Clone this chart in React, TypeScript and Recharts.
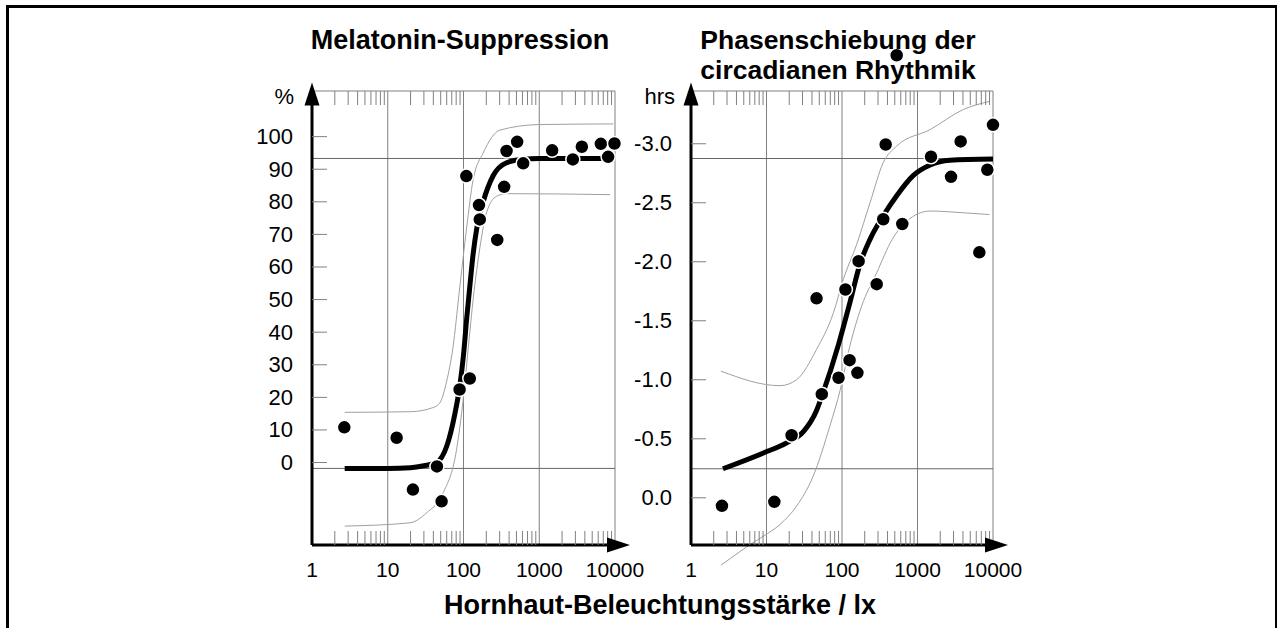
import {
  ComposedChart,
  Line,
  ReferenceDot,
  ReferenceLine,
  Scatter,
  XAxis,
  YAxis,
} from "recharts";

const FONT = '"Liberation Sans", Arial, Helvetica, sans-serif';

// shared log axis (lx)
const decadeTicks = [1, 10, 100, 1000, 10000];
const gridDecades = [10, 100, 1000, 10000];
const minorSteps = [2, 3, 4, 5, 6, 7, 8, 9];
const minorTicks = [1, 10, 100, 1000].flatMap((d) => minorSteps.map((k) => d * k));

// Melatonin-Suppression (%)
const melTicks = [0, 10, 20, 30, 40, 50, 60, 70, 80, 90, 100];
const melRange = { bottom: -25.3, top: 114 };
const melPlateau = [93.3, -1.8];
const melPoints = [
  { x: 2.67, y: 10.8 },
  { x: 13.1, y: 7.6 },
  { x: 21.5, y: -8.3 },
  { x: 44.6, y: -1.2 },
  { x: 51.4, y: -11.9 },
  { x: 88.8, y: 22.4 },
  { x: 121, y: 25.8 },
  { x: 109, y: 87.9 },
  { x: 160, y: 79.0 },
  { x: 164, y: 74.6 },
  { x: 279, y: 68.3 },
  { x: 344, y: 84.6 },
  { x: 370, y: 95.6 },
  { x: 511, y: 98.4 },
  { x: 614, y: 91.8 },
  { x: 1480, y: 95.8 },
  { x: 2775, y: 93.0 },
  { x: 3650, y: 96.9 },
  { x: 6500, y: 97.8 },
  { x: 8110, y: 93.8 },
  { x: 9840, y: 97.9 },
];
const melFit = [
  { x: 2.7, y: -1.8 },
  { x: 10, y: -1.8 },
  { x: 20, y: -1.6 },
  { x: 30, y: -1 },
  { x: 44, y: 0 },
  { x: 60, y: 5 },
  { x: 77, y: 15 },
  { x: 90, y: 24 },
  { x: 100, y: 33 },
  { x: 110, y: 44 },
  { x: 120, y: 53 },
  { x: 134, y: 64 },
  { x: 150, y: 72 },
  { x: 182, y: 80 },
  { x: 246, y: 88 },
  { x: 370, y: 92 },
  { x: 600, y: 93 },
  { x: 1000, y: 93.3 },
  { x: 9600, y: 93.3 },
];
const melUpper = [
  { x: 2.7, y: 15.4 },
  { x: 20, y: 15.6 },
  { x: 40, y: 16.9 },
  { x: 49, y: 18.4 },
  { x: 60, y: 25 },
  { x: 72, y: 34.7 },
  { x: 89.5, y: 54 },
  { x: 110, y: 72 },
  { x: 134, y: 86.8 },
  { x: 182, y: 95 },
  { x: 302, y: 102 },
  { x: 1000, y: 103.7 },
  { x: 9500, y: 103.9 },
];
const melLower = [
  { x: 2.7, y: -19.5 },
  { x: 19.6, y: -18.5 },
  { x: 32.7, y: -15.4 },
  { x: 54, y: -9.3 },
  { x: 81, y: 4 },
  { x: 99, y: 19.3 },
  { x: 121, y: 39.9 },
  { x: 134, y: 50 },
  { x: 160, y: 64 },
  { x: 201, y: 76.6 },
  { x: 273, y: 81.7 },
  { x: 370, y: 82.5 },
  { x: 8600, y: 82.2 },
];

// Phasenschiebung (hrs)
const phaseTicks = [0, -0.5, -1, -1.5, -2, -2.5, -3];
const phaseRange = { bottom: 0.4, top: -3.447 };
const phasePlateau = [-2.875, -0.246];
const phasePoints = [
  { x: 2.57, y: 0.068 },
  { x: 12.7, y: 0.034 },
  { x: 21.5, y: -0.53 },
  { x: 46, y: -1.69 },
  { x: 54, y: -0.878 },
  { x: 90, y: -1.017 },
  { x: 111, y: -1.765 },
  { x: 126, y: -1.166 },
  { x: 160, y: -1.059 },
  { x: 166, y: -2.005 },
  { x: 288, y: -1.81 },
  { x: 352, y: -2.36 },
  { x: 379, y: -2.994 },
  { x: 629, y: -2.32 },
  { x: 1510, y: -2.89 },
  { x: 2780, y: -2.72 },
  { x: 3730, y: -3.02 },
  { x: 6590, y: -2.08 },
  { x: 8410, y: -2.78 },
  { x: 10000, y: -3.16 },
];
const phaseOutlier = { x: 530, y: -3.75 };
const phaseFit = [
  { x: 2.65, y: -0.246 },
  { x: 9.1, y: -0.38 },
  { x: 18.5, y: -0.466 },
  { x: 30.8, y: -0.56 },
  { x: 46, y: -0.74 },
  { x: 54, y: -0.86 },
  { x: 90, y: -1.3 },
  { x: 128, y: -1.66 },
  { x: 173, y: -1.98 },
  { x: 235, y: -2.19 },
  { x: 352, y: -2.39 },
  { x: 530, y: -2.56 },
  { x: 875, y: -2.73 },
  { x: 1470, y: -2.82 },
  { x: 2680, y: -2.86 },
  { x: 10000, y: -2.87 },
];
const phaseUpper = [
  { x: 2.49, y: -1.073 },
  { x: 15.1, y: -0.95 },
  { x: 25, y: -1.0 },
  { x: 46, y: -1.257 },
  { x: 77, y: -1.568 },
  { x: 104, y: -1.85 },
  { x: 157, y: -2.15 },
  { x: 235, y: -2.5 },
  { x: 352, y: -2.84 },
  { x: 530, y: -2.98 },
  { x: 1470, y: -3.12 },
  { x: 4040, y: -3.29 },
  { x: 9130, y: -3.36 },
];
// part of the lower band that runs below the x axis
const phaseLowerTail = [
  { x: 2.49, y: 0.571 },
  { x: 6.04, y: 0.396 },
];
const phaseLower = [
  { x: 6.04, y: 0.396 },
  { x: 9.1, y: 0.325 },
  { x: 15.1, y: 0.226 },
  { x: 25, y: 0.071 },
  { x: 41.5, y: -0.183 },
  { x: 69, y: -0.607 },
  { x: 95, y: -0.918 },
  { x: 127, y: -1.285 },
  { x: 181, y: -1.62 },
  { x: 288, y: -1.907 },
  { x: 463, y: -2.19 },
  { x: 720, y: -2.344 },
  { x: 1470, y: -2.43 },
  { x: 4040, y: -2.415 },
  { x: 9000, y: -2.4 },
];

const GRID = "#808080";
const BAND = "#a0a0a0";
const Y_GAP = 19;

function XTick(props: any) {
  const { x, y, payload } = props;
  return (
    <text x={x} y={y + 32} textAnchor="middle" fontSize={21} fontFamily={FONT} fill="#000">
      {payload.value}
    </text>
  );
}

function YTick(props: any) {
  const { x, y, payload, fmt } = props;
  return (
    <g>
      <line x1={x + Y_GAP} x2={x + Y_GAP + 15} y1={y} y2={y} stroke={GRID} />
      <text
        x={x}
        y={y}
        textAnchor="end"
        dominantBaseline="central"
        fontSize={22}
        fontFamily={FONT}
        fill="#000"
      >
        {fmt(payload.value)}
      </text>
    </g>
  );
}

const dotShape = (s: any) => (
  <circle cx={s.cx} cy={s.cy} r={7} fill="#000" stroke="#fff" strokeWidth={1.5} />
);
const upArrow = (s: any) => (
  <polygon
    points={`${s.cx},${s.cy - 8.5} ${s.cx - 7.5},${s.cy + 14.5} ${s.cx + 7.5},${s.cy + 14.5}`}
    fill="#000"
  />
);
const rightArrow = (s: any) => (
  <polygon
    points={`${s.cx + 15},${s.cy} ${s.cx - 8},${s.cy - 7.5} ${s.cx - 8},${s.cy + 7.5}`}
    fill="#000"
  />
);
const tickUp = (s: any) => (
  <line x1={s.cx} x2={s.cx} y1={s.cy} y2={s.cy - 14} stroke={GRID} />
);
const tickDown = (s: any) => (
  <line x1={s.cx} x2={s.cx} y1={s.cy} y2={s.cy + 14} stroke={GRID} />
);

function Panel(p: any) {
  const yMin = Math.min(p.range.bottom, p.range.top);
  const yMax = Math.max(p.range.bottom, p.range.top);
  return (
    <ComposedChart width={450} height={628} margin={p.margin}>
      <XAxis
        type="number"
        dataKey="x"
        scale="log"
        domain={[1, 10000]}
        ticks={decadeTicks}
        interval={0}
        tickSize={0}
        tickMargin={0}
        tickLine={false}
        axisLine={{ stroke: "#000", strokeWidth: 3 }}
        tick={<XTick />}
        height={40}
      />
      <YAxis
        type="number"
        dataKey="y"
        domain={[yMin, yMax]}
        reversed={p.reversed}
        ticks={p.ticks}
        interval={0}
        tickSize={0}
        tickMargin={Y_GAP}
        tickLine={false}
        axisLine={{ stroke: "#000", strokeWidth: 3 }}
        tick={<YTick fmt={p.fmt} />}
        width={60}
      />
      {gridDecades.map((d) => (
        <ReferenceLine key={`g${d}`} x={d} stroke={GRID} />
      ))}
      <ReferenceLine y={p.range.top} stroke={GRID} />
      {p.plateau.map((v: number) => (
        <ReferenceLine key={`p${v}`} y={v} stroke="#666" />
      ))}
      {minorTicks.map((m) => (
        <ReferenceDot key={`b${m}`} x={m} y={p.range.bottom} shape={tickUp} />
      ))}
      {minorTicks.map((m) => (
        <ReferenceDot key={`t${m}`} x={m} y={p.range.top} shape={tickDown} />
      ))}
      <Line
        data={p.upper}
        dataKey="y"
        type="monotone"
        stroke={BAND}
        strokeWidth={1}
        dot={false}
        isAnimationActive={false}
      />
      <Line
        data={p.lower}
        dataKey="y"
        type="monotone"
        stroke={BAND}
        strokeWidth={1}
        dot={false}
        isAnimationActive={false}
      />
      {p.lowerTail && (
        <ReferenceLine segment={p.lowerTail} ifOverflow="visible" stroke={BAND} strokeWidth={1} />
      )}
      <Line
        data={p.fit}
        dataKey="y"
        type="monotone"
        stroke="#000"
        strokeWidth={5}
        dot={false}
        isAnimationActive={false}
      />
      <Scatter data={p.points} shape={dotShape} isAnimationActive={false} />
      {p.outlier && (
        <ReferenceDot x={p.outlier.x} y={p.outlier.y} ifOverflow="visible" shape={dotShape} />
      )}
      <ReferenceDot x={1} y={p.range.top} shape={upArrow} />
      <ReferenceDot x={10000} y={p.range.bottom} shape={rightArrow} />
    </ComposedChart>
  );
}

const text = (extra: any) => ({
  position: "absolute" as const,
  fontFamily: FONT,
  color: "#000",
  whiteSpace: "nowrap" as const,
  ...extra,
});

export default function App() {
  return (
    <div
      style={{
        position: "fixed",
        left: 0,
        top: 0,
        width: 1277,
        height: 628,
        background: "#fff",
        overflow: "hidden",
      }}
    >
      <div
        style={{
          position: "absolute",
          left: 6,
          top: 5,
          width: 1272,
          height: 700,
          border: "3px solid #000",
          boxSizing: "border-box",
        }}
      />
      <div style={{ position: "absolute", left: 200, top: 0 }}>
        <Panel
          margin={{ top: 91, right: 35, bottom: 43, left: 52 }}
          ticks={melTicks}
          fmt={(v: number) => String(v)}
          range={melRange}
          plateau={melPlateau}
          points={melPoints}
          fit={melFit}
          upper={melUpper}
          lower={melLower}
          reversed={false}
        />
      </div>
      <div style={{ position: "absolute", left: 580, top: 0 }}>
        <Panel
          margin={{ top: 91, right: 37, bottom: 43, left: 51 }}
          ticks={phaseTicks}
          fmt={(v: number) => v.toFixed(1)}
          range={phaseRange}
          plateau={phasePlateau}
          points={phasePoints}
          outlier={phaseOutlier}
          fit={phaseFit}
          upper={phaseUpper}
          lower={phaseLower}
          lowerTail={phaseLowerTail}
          reversed={true}
        />
      </div>
      <div
        style={text({
          left: 260,
          width: 400,
          top: 25,
          textAlign: "center",
          fontSize: 27,
          fontWeight: "bold",
          lineHeight: "30px",
        })}
      >
        Melatonin-Suppression
      </div>
      <div
        style={text({
          left: 638,
          width: 400,
          top: 25,
          textAlign: "center",
          fontSize: 26.5,
          fontWeight: "bold",
          lineHeight: "30px",
        })}
      >
        Phasenschiebung der
        <br />
        circadianen Rhythmik
      </div>
      <div style={text({ left: 254, width: 40, top: 84, textAlign: "right", fontSize: 22, lineHeight: "26px" })}>
        %
      </div>
      <div style={text({ left: 615, width: 60, top: 84, textAlign: "right", fontSize: 22, lineHeight: "26px" })}>
        hrs
      </div>
      <div
        style={text({
          left: 410,
          width: 500,
          top: 590,
          textAlign: "center",
          fontSize: 27,
          fontWeight: "bold",
          lineHeight: "30px",
        })}
      >
        Hornhaut-Beleuchtungsstärke / lx
      </div>
    </div>
  );
}
